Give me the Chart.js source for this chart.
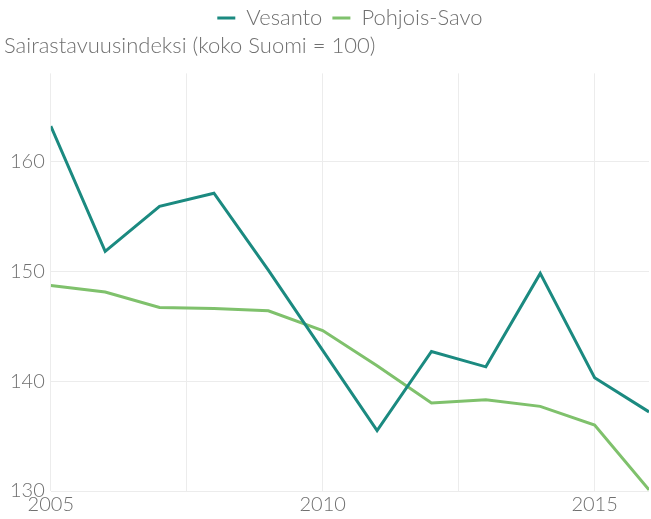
<!DOCTYPE html>
<html>
<head>
<meta charset="utf-8">
<script src="https://cdn.jsdelivr.net/npm/chart.js@4"></script>
<style>
  html, body { margin: 0; padding: 0; background: #fff; }
  #wrap { width: 651px; height: 519px; }
</style>
</head>
<body>
<div id="wrap"><canvas id="chart"></canvas></div>
<script>
const YEARS = [2005, 2006, 2007, 2008, 2009, 2010, 2011, 2012, 2013, 2014, 2015, 2016];
const VESANTO = [163.2, 151.8, 155.9, 157.1, 150.1, 142.8, 135.5, 142.7, 141.3, 149.8, 140.3, 137.2];
const POHJOIS_SAVO = [148.7, 148.1, 146.7, 146.6, 146.4, 144.6, 141.4, 138.0, 138.3, 137.7, 136.0, 130.1];
const X_TICKS = [2005, 2007.5, 2010, 2012.5, 2015];
const Y_TICKS = [130, 140, 150, 160];
const TITLE = "Sairastavuusindeksi (koko Suomi = 100)";

const FONT = "Lato, 'Noto Sans', sans-serif";
const TEXT = "#707070";

const toPoints = (vals) => vals.map((v, i) => ({ x: YEARS[i], y: v }));

const config = {
  type: "line",
  data: {
    datasets: [
      {
        label: "Vesanto",
        data: toPoints(VESANTO),
        borderColor: "#1b8a80",
        backgroundColor: "#1b8a80",
        borderWidth: 3,
        pointRadius: 0,
        tension: 0,
      },
      {
        label: "Pohjois-Savo",
        data: toPoints(POHJOIS_SAVO),
        borderColor: "#7fc16c",
        backgroundColor: "#7fc16c",
        borderWidth: 3,
        pointRadius: 0,
        tension: 0,
      },
    ],
  },
  options: {
    responsive: true,
    maintainAspectRatio: false,
    animation: false,
    layout: { padding: { left: 4, right: 2, top: -3, bottom: 0 } },
    plugins: {
      legend: {
        position: "top",
        fullSize: false,
        weight: 3000,
        labels: {
          usePointStyle: true,
          pointStyle: "line",
          pointStyleWidth: 18,
          color: TEXT,
          font: { family: FONT, size: 22, weight: 300 },
          padding: 10,
        },
      },
      title: {
        display: true,
        text: TITLE,
        align: "start",
        color: TEXT,
        weight: 500,
        font: { family: FONT, size: 22, weight: 300 },
        padding: { top: 0, bottom: 14 },
      },
      tooltip: { enabled: false },
    },
    scales: {
      x: {
        type: "linear",
        min: 2005,
        max: 2016,
        border: { display: false },
        grid: { color: "#ececec", lineWidth: 1, drawTicks: false },
        afterBuildTicks: (axis) => {
          axis.ticks = X_TICKS.map((v) => ({ value: v }));
        },
        ticks: {
          autoSkip: false,
          maxRotation: 0,
          padding: 2,
          color: TEXT,
          font: { family: FONT, size: 20, weight: 300 },
          callback: (v) => (v % 5 === 0 ? String(v) : ""),
        },
      },
      y: {
        min: 130,
        max: 168,
        border: { display: false },
        grid: { color: "#ececec", lineWidth: 1, drawTicks: false },
        afterBuildTicks: (axis) => {
          axis.ticks = Y_TICKS.map((v) => ({ value: v }));
        },
        ticks: {
          padding: 6,
          color: TEXT,
          font: { family: FONT, size: 20, weight: 300 },
        },
      },
    },
  },
};

const chart = new Chart("chart", config);
// legend box is a bit tall for this layout, trim it
const legendFit = chart.legend.fit;
chart.legend.fit = function () {
  legendFit.call(this);
  this.height -= 6;
};
chart.update();
</script>
</body>
</html>
